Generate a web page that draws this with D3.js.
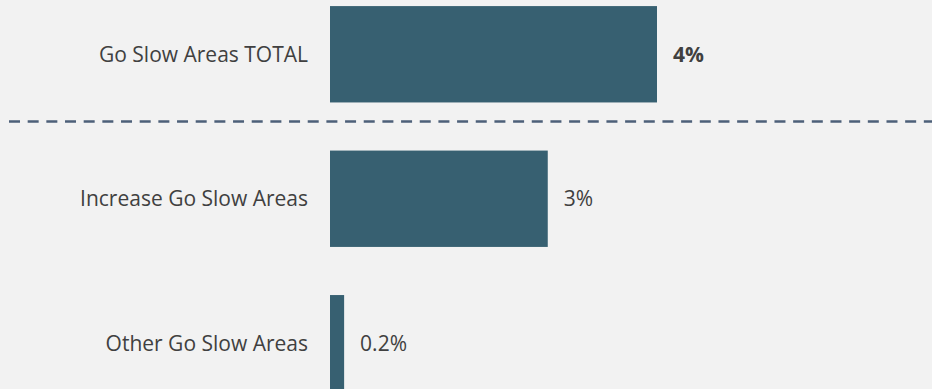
<!DOCTYPE html>
<html>
<head>
<meta charset="utf-8">
<script src="https://cdn.jsdelivr.net/npm/d3@7"></script>
<style>
  html, body { margin: 0; padding: 0; background: #f2f2f2; }
  svg { display: block; font-family: "Open Sans", sans-serif; }
</style>
</head>
<body>
<script>
const categories = ["Go Slow Areas TOTAL", "Increase Go Slow Areas", "Other Go Slow Areas"];
const values = [4.4, 2.93, 0.19];
const valueLabels = ["4%", "3%", "0.2%"];
const boldFlags = [true, false, false];

const W = 932, H = 389;
const svg = d3.select("body").append("svg").attr("width", W).attr("height", H);
svg.append("rect").attr("width", W).attr("height", H).attr("fill", "#f2f2f2");

const x = d3.scaleLinear().domain([0, 4.4]).range([330, 657]);
const y = d3.scaleBand().domain(categories).range([-18, -18 + 3 * 144.5])
  .paddingInner(0.333).paddingOuter(0.1667);

const data = categories.map((c, i) => ({ c, v: values[i], l: valueLabels[i], b: boldFlags[i] }));

svg.selectAll("rect.bar").data(data).join("rect")
  .attr("class", "bar")
  .attr("x", x(0))
  .attr("y", d => y(d.c))
  .attr("width", d => x(d.v) - x(0))
  .attr("height", y.bandwidth())
  .attr("fill", "#376071");

svg.selectAll("text.cat").data(data).join("text")
  .attr("class", "cat")
  .attr("x", x(0) - 22)
  .attr("y", d => y(d.c) + y.bandwidth() / 2)
  .attr("dy", "0.35em")
  .attr("text-anchor", "end")
  .attr("font-size", 21)
  .attr("fill", "#404040")
  .text(d => d.c);

svg.selectAll("text.val").data(data).join("text")
  .attr("class", "val")
  .attr("x", d => x(d.v) + 16)
  .attr("y", d => y(d.c) + y.bandwidth() / 2)
  .attr("dy", "0.35em")
  .attr("font-size", 21)
  .attr("font-weight", d => d.b ? "bold" : "normal")
  .attr("fill", "#404040")
  .text(d => d.l);

// separator between total and components
const sepY = (y(categories[0]) + y.bandwidth() + y(categories[1])) / 2 - 5;
svg.append("line")
  .attr("x1", 9).attr("x2", W)
  .attr("y1", sepY).attr("y2", sepY)
  .attr("stroke", "#4d6079")
  .attr("stroke-width", 2.5)
  .attr("stroke-dasharray", "11 7.67");
</script>
</body>
</html>
